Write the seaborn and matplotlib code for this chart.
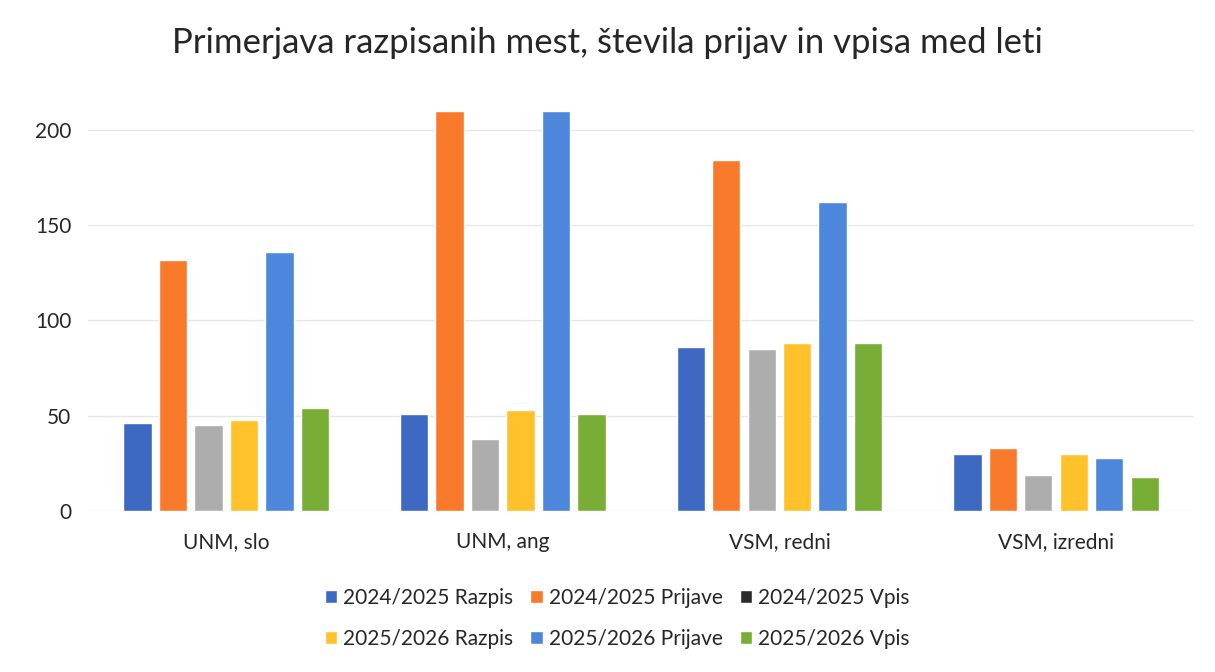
import seaborn as sns
import matplotlib.pyplot as plt
from matplotlib.patches import Patch
import pandas as pd

# Data
categories = ['UNM, slo', 'UNM, ang', 'VSM, redni', 'VSM, izredni']
series = ['2024/2025 Razpis', '2024/2025 Prijave', '2024/2025 Vpis',
          '2025/2026 Razpis', '2025/2026 Prijave', '2025/2026 Vpis']
razpis_2425 = [46, 51, 86, 30]
prijave_2425 = [132, 210, 184, 33]
vpis_2425 = [45, 38, 85, 19]
razpis_2526 = [48, 53, 88, 30]
prijave_2526 = [136, 210, 162, 28]
vpis_2526 = [54, 51, 88, 18]

colors = ['#3D69C2', '#FA7A2C', '#ADADAD', '#FFC22A', '#4D87DC', '#78AD36']
legend_colors = ['#3D69C2', '#FA7A2C', '#2B2B2B', '#FFC22A', '#4D87DC', '#78AD36']

values = [razpis_2425, prijave_2425, vpis_2425, razpis_2526, prijave_2526, vpis_2526]
df = pd.DataFrame({
    'kategorija': categories * len(series),
    'serija': [s for s in series for _ in categories],
    'vrednost': [v for vals in values for v in vals],
})

sns.set_style('white')
plt.rcParams['font.family'] = ['Lato', 'DejaVu Sans']

fig = plt.figure(figsize=(12.15, 6.72), dpi=100)
ax = fig.add_axes([0.0724, 0.2396, 0.9106, 0.6294])

sns.barplot(data=df, x='kategorija', y='vrednost', hue='serija', order=categories,
            hue_order=series, palette=colors, saturation=1, width=0.77, gap=0.2,
            ax=ax, legend=False, zorder=2)

ax.set_ylim(0, 222)
ax.set_yticks([0, 50, 100, 150, 200])
ax.grid(axis='y', color='#E6E6E6', linewidth=1, zorder=0)
ax.set_xlabel('')
ax.set_ylabel('')
for s in ax.spines.values():
    s.set_visible(False)
ax.tick_params(axis='both', length=0, labelsize=15, colors='#262626')
ax.tick_params(axis='y', pad=12)
ax.tick_params(axis='x', pad=15)

fig.suptitle('Primerjava razpisanih mest, števila prijav in vpisa med leti',
             fontsize=25, color='#262626', y=0.96)

# legend filled row by row (matplotlib fills columns first)
handles = [Patch(facecolor=c, label=s) for c, s in zip(legend_colors, series)]
order = [0, 3, 1, 4, 2, 5]
fig.legend(handles=[handles[i] for i in order], loc='center',
           bbox_to_anchor=(0.508, 0.08), ncol=3, frameon=False, fontsize=15,
           handlelength=0.6, handleheight=0.6, handletextpad=0.3,
           columnspacing=0.8, labelspacing=1.0)

plt.savefig('out.png', dpi=100)
